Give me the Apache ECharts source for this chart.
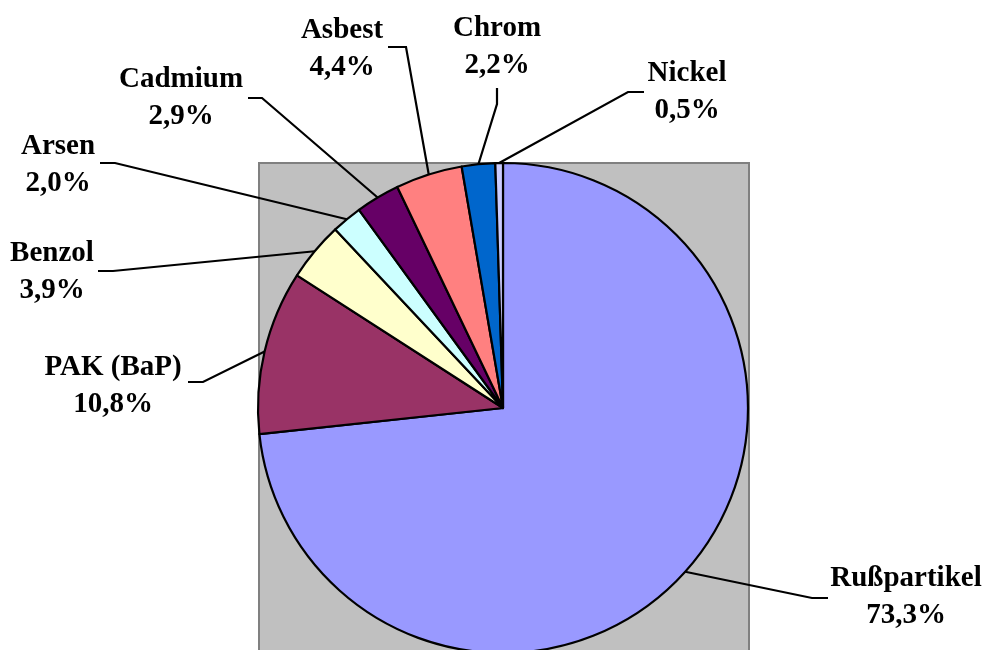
<!DOCTYPE html>
<html>
<head>
<meta charset="utf-8">
<script src="https://cdn.jsdelivr.net/npm/echarts@6/dist/echarts.min.js"></script>
<style>
html,body{margin:0;padding:0;background:#fff;}
#c{width:986px;height:650px;}
</style>
</head>
<body>
<div id="c"></div>
<script>
const categories = ['Rußpartikel','PAK (BaP)','Benzol','Arsen','Cadmium','Asbest','Chrom','Nickel'];
const values = [73.3, 10.8, 3.9, 2.0, 2.9, 4.4, 2.2, 0.5];
const colors = ['#9999FF','#993366','#FFFFCC','#CCFFFF','#660066','#FF8080','#0066CC','#CCCCFF'];
// label layout (positions only)
const labelPos = [[906,597],[113,386],[52,272],[58,165],[181,98],[342,49],[497,47],[687,92]];
const lineBend = [[812,598],[203,382],[113,271],[115,163],[262,98],[406,47],[497,104],[628,92]];
const lineEnd  = [[828,598],[188,382],[98,271],[100,163],[248,98],[388,47],[497,88],[644,92]];

const chart = echarts.init(document.getElementById('c'), null, {renderer:'canvas'});
chart.setOption({
  animation:false,
  backgroundColor:'#ffffff',
  graphic:[{
    type:'rect', z:-10, silent:true,
    shape:{x:259,y:163,width:490,height:500},
    style:{fill:'#c0c0c0',stroke:'#808080',lineWidth:2}
  }],
  series:[{
    type:'pie',
    center:[503,408],
    radius:[0,245],
    startAngle:90,
    clockwise:true,
    avoidLabelOverlap:false,
    data: categories.map((n,i)=>({name:n,value:values[i],itemStyle:{color:colors[i]}})),
    itemStyle:{borderColor:'#000',borderWidth:2.2},
    label:{
      show:true,
      position:'outside',
      formatter:p=>p.name+'\n'+p.value.toFixed(1).replace('.',',')+'%',
      fontFamily:'Liberation Serif',
      fontWeight:'bold',
      fontSize:29,
      lineHeight:37,
      color:'#000',
      align:'center'
    },
    labelLine:{show:true,length:20,length2:15,smooth:false,lineStyle:{color:'#000',width:2.2}},
    labelLayout:function(params){
      const i = params.dataIndex;
      const p = labelPos[i];
      const start = params.labelLinePoints ? params.labelLinePoints[0] : lineBend[i];
      return {x:p[0],y:p[1],align:'center',verticalAlign:'middle',
              labelLinePoints:[start, lineBend[i], lineEnd[i]]};
    }
  }]
});
</script>
</body>
</html>
